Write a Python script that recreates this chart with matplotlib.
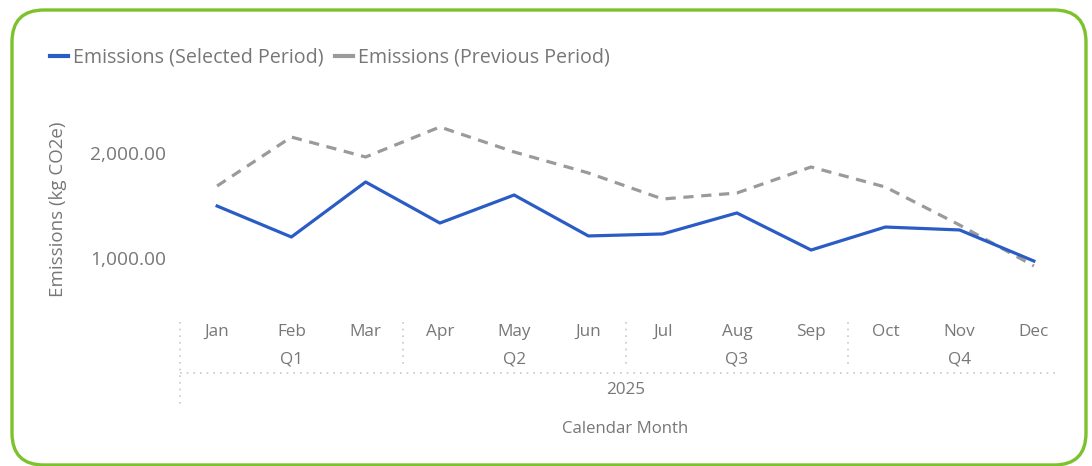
import matplotlib
matplotlib.use("Agg")
import matplotlib.pyplot as plt
from matplotlib.patches import FancyBboxPatch
from matplotlib.lines import Line2D
from matplotlib.transforms import IdentityTransform, blended_transform_factory
from matplotlib.ticker import FuncFormatter

months = ["Jan", "Feb", "Mar", "Apr", "May", "Jun", "Jul", "Aug", "Sep", "Oct", "Nov", "Dec"]
quarters = ["Q1", "Q2", "Q3", "Q4"]
year_label = "2025"
selected = [1495, 1200, 1724, 1333, 1600, 1210, 1229, 1429, 1076, 1295, 1267, 971]
previous = [1686, 2152, 1962, 2248, 2010, 1810, 1562, 1619, 1867, 1676, 1314, 924]
series_names = ["Emissions (Selected Period)", "Emissions (Previous Period)"]
y_ticks = [1000, 2000]

W, H = 1092, 466
plt.rcParams['font.family'] = ['Open Sans', 'DejaVu Sans']
fig = plt.figure(figsize=(W / 100, H / 100), dpi=100)
fig.patch.set_facecolor("white")

TXT = "#777777"
BLUE = "#2b5cc6"
GRAY = "#9a9a9a"

# border
border = FancyBboxPatch((12, 1), 1074, 455, boxstyle="round,pad=0,rounding_size=32",
                        transform=IdentityTransform(), fill=False, edgecolor="#7cc22c", linewidth=2.4)
fig.patches.append(border)

def px(x0, y0, w, h):
    return [x0 / W, 1 - (y0 + h) / H, w / W, h / H]

ax = fig.add_axes(px(180, 100, 891, 215))
x = list(range(len(months)))
ax.plot(x, previous, color=GRAY, lw=2.3, ls=(0, (3.2, 2.4)), solid_capstyle="butt")
ax.plot(x, selected, color=BLUE, lw=2.3)
ax.set_xlim(-0.5, len(months) - 0.5)
ax.set_ylim(457, 2505)
ax.set_yticks(y_ticks)
ax.yaxis.set_major_formatter(FuncFormatter(lambda v, p: f"{v:,.2f}"))
ax.tick_params(axis="y", length=0, pad=10, labelsize=13.8, labelcolor=TXT)
ax.set_xticks([])
for s in ax.spines.values():
    s.set_visible(False)
ax.set_ylabel("Emissions (kg CO2e)", fontsize=13.5, color=TXT)
ax.yaxis.set_label_coords(-0.127, 0.49)

# hierarchical x axis
tr = blended_transform_factory(ax.transData, IdentityTransform())
def yp(p):
    return H - p
for i, m in enumerate(months):
    ax.text(i, yp(332), m, transform=tr, ha="center", va="center", fontsize=12.3, color=TXT)
for q, name in enumerate(quarters):
    ax.text(q * 3 + 1, yp(360), name, transform=tr, ha="center", va="center", fontsize=12.3, color=TXT)
dot = dict(color="#c8c8c8", lw=1.2, ls=(0, (1, 3)), transform=tr, clip_on=False)
ax.add_line(Line2D([-0.5, -0.5], [yp(322), yp(408)], **dot))
for q in range(1, len(quarters)):
    ax.add_line(Line2D([q * 3 - 0.5] * 2, [yp(322), yp(368)], **dot))
ax.add_line(Line2D([-0.5, 11.35], [yp(373), yp(373)], **dot))
ax.text(5.5, yp(390), year_label, transform=tr, ha="center", va="center", fontsize=12.3, color=TXT)
ax.text(5.5, yp(429), "Calendar Month", transform=tr, ha="center", va="center", fontsize=12.1, color=TXT)

# legend
handles = [Line2D([], [], color=BLUE, lw=3), Line2D([], [], color=GRAY, lw=3)]
fig.legend(handles, series_names, loc="center left", bbox_to_anchor=(50 / W, 1 - 58 / H),
           frameon=False, ncol=2, fontsize=14.2, labelcolor=TXT, handlelength=0.92,
           handletextpad=0.25, columnspacing=0.55, borderpad=0, borderaxespad=0)

fig.savefig("out.png", dpi=100, facecolor="white")
